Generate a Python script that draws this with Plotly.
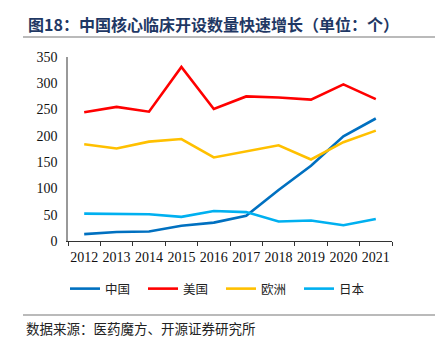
import plotly.graph_objects as go

years = ["2012", "2013", "2014", "2015", "2016", "2017", "2018", "2019", "2020", "2021"]
china = [13, 17, 18, 29, 35, 48, 97, 143, 199, 233]
usa = [245, 255, 246, 331, 251, 275, 273, 269, 298, 270]
europe = [184, 176, 189, 194, 159, 171, 182, 155, 188, 210]
japan = [52, 52, 51, 46, 57, 55, 37, 39, 30, 42]

names = ["中国", "美国", "欧洲", "日本"]
colors = ["#0070C0", "#FF0000", "#FFC000", "#00B0F0"]
series = [china, usa, europe, japan]

title = "图18：中国核心临床开设数量快速增长（单位：个）"
source = "数据来源：医药魔方、开源证券研究所"

fig = go.Figure()
for n, c, s in zip(names, colors, series):
    fig.add_trace(go.Scatter(x=years, y=s, name=n, mode="lines",
                             line=dict(color=c, width=2.6)))

serif = "Liberation Serif, Times New Roman, serif"
cjk = "Noto Sans CJK SC"

fig.update_layout(
    width=444, height=353,
    margin=dict(l=68, r=52, t=57, b=112),
    plot_bgcolor="white", paper_bgcolor="white",
    showlegend=True,
    legend=dict(orientation="h", x=65 / 444, y=1 - 289 / 353, xref="container", yref="container",
                xanchor="left", yanchor="middle",
                font=dict(family=cjk, size=12.5, color="#222"),
                entrywidth=33, entrywidthmode="pixels",
                itemwidth=30, borderwidth=0, bgcolor="rgba(0,0,0,0)"),
    xaxis=dict(type="category", range=[-0.5, 9.5], showgrid=False, showline=True, linecolor="#333",
               linewidth=1, ticks="outside", tickson="boundaries", ticklen=4, tickangle=0,
               automargin=False, ticklabelstandoff=3,
               tickcolor="#333", tickfont=dict(family=serif, size=14, color="#111")),
    yaxis=dict(range=[0, 350], dtick=50, showgrid=False, showline=True,
               linecolor="#999", linewidth=1.5, ticks="", zeroline=False, automargin=False,
               ticklabelstandoff=6,
               tickfont=dict(family=serif, size=14, color="#111")),
)

fig.add_annotation(text="<b>" + title + "</b>", xref="paper", yref="paper",
                   x=-42 / 324, y=1 + (57 - 24) / 184, xanchor="left", yanchor="middle",
                   showarrow=False, font=dict(family=cjk, size=16, color="#1F3864"))
fig.add_annotation(text=source, xref="paper", yref="paper",
                   x=-44 / 324, y=-(328 - 241) / 184, xanchor="left", yanchor="middle",
                   showarrow=False, font=dict(family=cjk, size=13.5, color="#222"))

for yy in [37, 315]:
    fig.add_shape(type="line", xref="paper", yref="paper",
                  x0=(23 - 68) / 324, x1=(435 - 68) / 324,
                  y0=(241 - yy) / 184, y1=(241 - yy) / 184,
                  line=dict(color="#777", width=1.2))

fig.write_html("out.html")
